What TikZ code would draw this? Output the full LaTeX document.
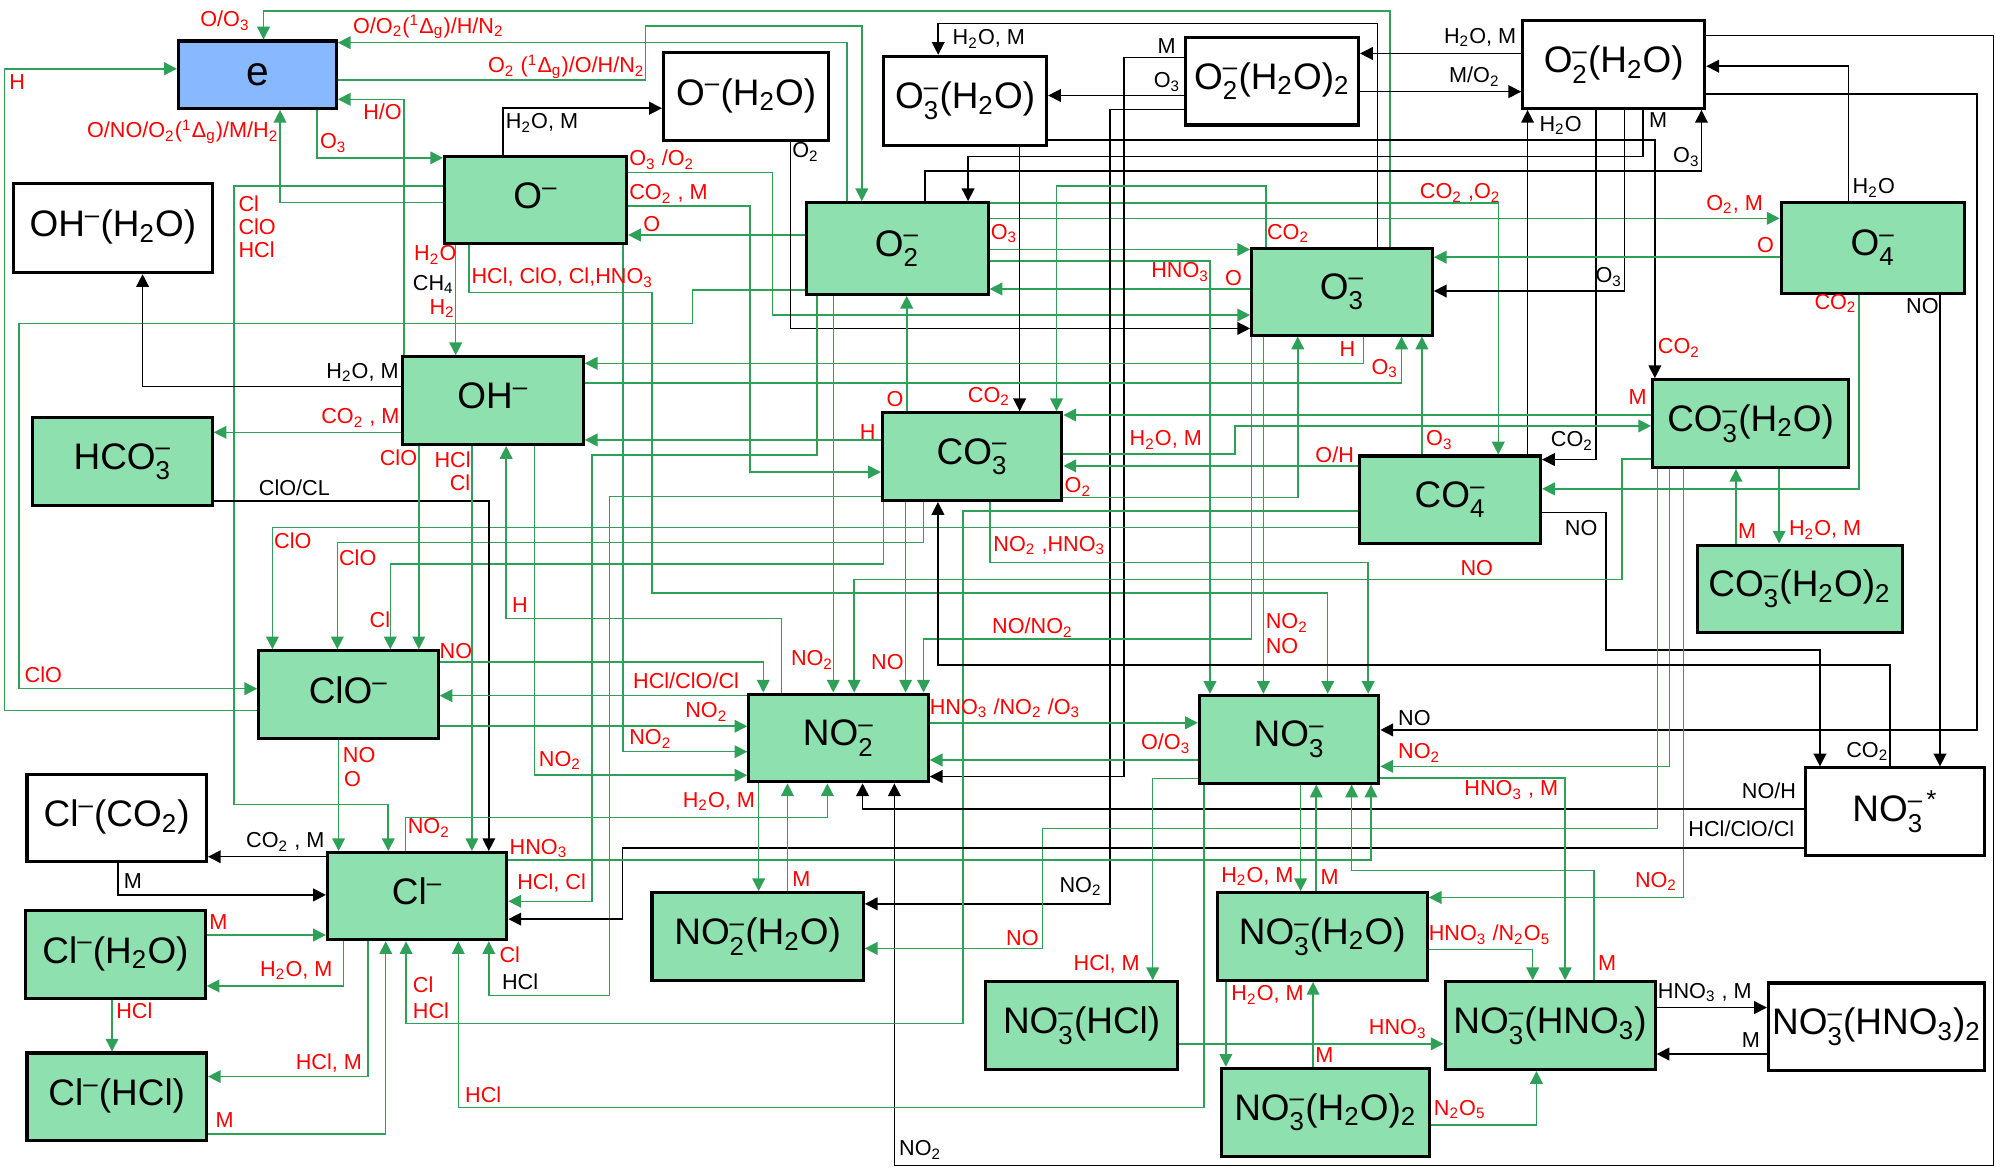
\documentclass[tikz,border=0pt]{standalone}
\usepackage{fontspec}
\setmainfont{Liberation Sans}
\usepackage{amsmath}
\usepackage{tikz}
\usetikzlibrary{arrows.meta}

\definecolor{ionfill}{RGB}{142,224,174}
\definecolor{efill}{RGB}{136,184,255}
\definecolor{lgreen}{RGB}{46,160,88}
\definecolor{lred}{RGB}{255,0,0}

\newcommand{\subs}[1]{\textsubscript{#1}}
\newcommand{\chg}[2]{\ensuremath{_{\text{#1}}^{\text{#2}}}}

\begin{document}
\begin{tikzpicture}[
    x=0.5pt, y=-0.5pt,
    font=\fontsize{8.5}{9}\selectfont,
    ion/.style={
        draw,
        line width=1.2pt,
        fill=ionfill,
        anchor=north west,
        inner sep=0pt,
        minimum width=70.5pt,
        minimum height=34.5pt,
        font=\fontsize{14.5}{15}\selectfont
    },
    neu/.style={ion, fill=white},
    ebox/.style={ion, fill=efill},
    gwire/.style={
        draw=lgreen,
        line width=0.6pt,
        -{Triangle[length=5pt,width=5pt]}
    },
    bwire/.style={
        draw=black,
        line width=0.6pt,
        -{Triangle[length=5pt,width=5pt]}
    },
    rtag/.style={text=lred, anchor=base west, inner sep=0pt},
    ktag/.style={text=black, anchor=base west, inner sep=0pt}
]
\useasboundingbox (0,0) rectangle (1568,918);

% =========================================================
% species
% =========================================================
\node[ebox, minimum width=62pt, minimum height=26.5pt,
      font=\fontsize{16}{16}\selectfont] (e) at (139,31) {e};
\node[neu, minimum width=78pt, minimum height=35pt] (OHw) at (9.5,143) {OH\chg{}{–}(H\subs{2}O)};
\node[ion, minimum width=71.5pt, minimum height=34pt] (Om) at (348,122) {O\chg{}{–}};
\node[neu, minimum width=65pt] (Omw) at (520,40) {O\chg{}{–}(H\subs{2}O)};
\node[neu, minimum width=64pt, minimum height=35pt] (O3mw) at (693,43) {O\chg{3}{–}(H\subs{2}O)};
\node[neu, minimum width=68pt] (O2mw2) at (930,28) {O\chg{2}{–}(H\subs{2}O)\subs{2}};
\node[neu, minimum width=71.5pt] (O2mw) at (1195,15) {O\chg{2}{–}(H\subs{2}O)};
\node[ion, minimum width=71.5pt, minimum height=36pt] (O2m) at (632,158) {O\chg{2}{–}};
\node[ion, minimum width=71pt, minimum height=34pt] (O3m) at (982,194) {O\chg{3}{–}};
\node[ion, minimum width=72pt, minimum height=35.5pt] (O4m) at (1398,158) {O\chg{4}{–}};
\node[ion, minimum width=71pt] (OHm) at (315,279) {OH\chg{}{–}};
\node[ion] (HCO3m) at (24.5,327) {HCO\chg{3}{–}};
\node[ion] (CO3m) at (692,323) {CO\chg{3}{–}};
\node[ion, minimum width=71pt] (CO4m) at (1067,357) {CO\chg{4}{–}};
\node[ion, minimum width=77pt] (CO3mw) at (1297,297) {CO\chg{3}{–}(H\subs{2}O)};
\node[ion, minimum width=80.5pt] (CO3mw2) at (1332,427) {CO\chg{3}{–}(H\subs{2}O)\subs{2}};
\node[ion] (ClOm) at (202,510) {ClO\chg{}{–}};
\node[ion] (NO2m) at (587,544) {NO\chg{2}{–}};
\node[ion] (NO3m) at (941,545) {NO\chg{3}{–}};
\node[neu] (NO3s) at (1417,602) {NO\chg{3}{–\,*}};
\node[neu, minimum height=34pt] (ClCO2) at (20,607.5) {Cl\chg{}{–}(CO\subs{2})};
\node[ion, minimum height=34.25pt] (Clm) at (256,668.5) {Cl\chg{}{–}};
\node[ion] (ClW) at (19,714) {Cl\chg{}{–}(H\subs{2}O)};
\node[ion] (ClHCl) at (20,826) {Cl\chg{}{–}(HCl)};
\node[ion, minimum width=83pt] (NO2mw) at (511,700) {NO\chg{2}{–}(H\subs{2}O)};
\node[ion, minimum width=82.5pt] (NO3mw) at (955,700) {NO\chg{3}{–}(H\subs{2}O)};
\node[ion, minimum width=75.5pt] (NO3HCl) at (773,770) {NO\chg{3}{–}(HCl)};
\node[ion, minimum width=82.5pt] (NO3HNO3) at (1134,770) {NO\chg{3}{–}(HNO\subs{3})};
\node[neu, minimum width=85pt] (NO3HNO32) at (1388,771) {NO\chg{3}{–}(HNO\subs{3})\subs{2}};
\node[ion, minimum width=82pt] (NO3mw2) at (958,838) {NO\chg{3}{–}(H\subs{2}O)\subs{2}};

% =========================================================
% electron and O- / O2- channels
% =========================================================
\draw[gwire] (O3m.north -| 1092,0) -- (1092,8.6) -- (207,8.6) -- (e.north -| 207,0);
\draw[gwire] (O2m.north -| 665.5,0) -- (665.5,33.5) -- (e.east |- 0,33.5);
\draw[gwire] (e.east |- 0,63) -- (507,63) -- (507,20.4) -- (677,20.4) -- (O2m.north -| 677,0);
\draw[gwire] (ClOm.west |- 0,558) -- (3.4,558) -- (3.4,54) -- (e.west |- 0,54);
\draw[gwire] (O2m.west |- 0,228) -- (544,228) -- (544,254) -- (15,254) -- (15,541) -- (ClOm.west |- 0,541);
\draw[gwire] (Om.west |- 0,159) -- (220,159) -- (e.south -| 220,0);
\draw[gwire] (e.south -| 249,0) -- (249,124) -- (Om.west |- 0,124);
\draw[gwire] (OHm.north -| 317.5,0) -- (317.5,78) -- (e.east |- 0,78);
\draw[gwire] (Om.west |- 0,146) -- (184,146) -- (184,632) -- (305,632) -- (Clm.north -| 305,0);
\draw[bwire] (Om.north -| 395,0) -- (395,85) -- (Omw.west |- 0,85);
\draw[gwire] (Om.south -| 358,0) -- (OHm.north -| 358,0);
\draw[gwire] (Om.south -| 368.6,0) -- (368.6,229.6) -- (512,229.6) -- (512,466) -- (1043,466) -- (NO3m.north -| 1043,0);
\draw[gwire] (Om.east |- 0,162) -- (589,162) -- (589,370.8) -- (CO3m.west |- 0,370.8);
\draw[gwire] (Om.east |- 0,135.6) -- (607,135.6) -- (607,247.5) -- (O3m.west |- 0,247.5);
\draw[gwire] (O2m.west |- 0,184.6) -- (Om.east |- 0,184.6);
\draw[bwire] (Omw.south -| 621,0) -- (621,258) -- (O3m.west |- 0,258);
\draw[gwire] (Om.south -| 489.6,0) -- (489.6,590.5) -- (NO2m.west |- 0,590.5);

\draw[gwire] (O2m.east |- 0,196) -- (O3m.west |- 0,196);
\draw[gwire] (O2m.east |- 0,205) -- (950.5,205) -- (NO3m.north -| 950.5,0);
\draw[gwire] (O3m.west |- 0,227) -- (O2m.east |- 0,227);
\draw[gwire] (O2m.east |- 0,171.5) -- (O4m.west |- 0,171.5);
\draw[gwire] (O2m.east |- 0,159.5) -- (1177,159.5) -- (CO4m.north -| 1177,0);
\draw[gwire] (O2m.south -| 642,0) -- (642,357.4) -- (465,357.4) -- (465,708) -- (Clm.east |- 0,708);
\draw[gwire] (O2m.south -| 654.6,0) -- (NO2m.north -| 654.6,0);

% =========================================================
% hydrated O2- / O3- clusters
% =========================================================
\draw[bwire] (O3m.north -| 1082,0) -- (1082,18.3) -- (737,18.3) -- (O3mw.north -| 737,0);
\draw[bwire] (O3mw.south -| 801,0) -- (CO3m.north -| 801,0);
\draw[bwire] (O2mw2.west |- 0,75) -- (O3mw.east |- 0,75);
\draw[bwire] (O2mw2.west |- 0,45) -- (883,45) -- (883,610) -- (NO2m.east |- 0,610);
\draw[bwire] (O2mw2.west |- 0,86) -- (872,86) -- (872,710) -- (NO2mw.east |- 0,710);
\draw[bwire] (O3mw.east |- 0,110) -- (1300,110) -- (CO3mw.north -| 1300,0);
\draw[bwire] (O2mw.south -| 1290.5,0) -- (1290.5,123) -- (760.5,123) -- (O2m.north -| 760.5,0);
\draw[bwire] (O2m.north -| 726.5,0) -- (726.5,134.5) -- (1336.6,134.5) -- (O2mw.south -| 1336.6,0);
\draw[bwire] (O2mw.west |- 0,42) -- (O2mw2.east |- 0,42);
\draw[bwire] (O2mw2.east |- 0,72) -- (O2mw.west |- 0,72);
\draw[bwire] (O2mw.east |- 0,74) -- (1553,74) -- (1553,573.4) -- (NO3m.east |- 0,573.4);
\draw[bwire] (O2mw.east |- 0,28) -- (1566,28) -- (1566,915.5) -- (702.6,915.5) -- (NO2m.south -| 702.6,0);
\draw[bwire] (O4m.north -| 1452,0) -- (1452,52) -- (O2mw.east |- 0,52);
\draw[bwire] (O2mw.south -| 1276,0) -- (1276,228.6) -- (O3m.east |- 0,228.6);
\draw[bwire] (CO4m.north -| 1200,0) -- (O2mw.south -| 1200,0);
\draw[bwire] (O2mw.south -| 1253.6,0) -- (1253.6,361) -- (CO4m.east |- 0,361);

% =========================================================
% O3- / O4- / CO3- / CO4-
% =========================================================
\draw[gwire] (O3m.north -| 994.4,0) -- (994.4,146) -- (830,146) -- (CO3m.north -| 830,0);
\draw[gwire] (O3m.south -| 1071,0) -- (1071,285.4) -- (OHm.east |- 0,285.4);
\draw[gwire] (OHm.east |- 0,301) -- (1101,301) -- (O3m.south -| 1101,0);
\draw[gwire] (O3m.south -| 983,0) -- (983,502) -- (725.5,502) -- (NO2m.north -| 725.5,0);
\draw[gwire] (O3m.south -| 992.5,0) -- (NO3m.north -| 992.5,0);
\draw[gwire] (O4m.west |- 0,202) -- (O3m.east |- 0,202);
\draw[gwire] (O4m.south -| 1460.5,0) -- (1460.5,384) -- (CO4m.east |- 0,384);
\draw[bwire] (O4m.south -| 1524,0) -- (NO3s.north -| 1524,0);
\draw[gwire] (CO4m.north -| 1117,0) -- (O3m.south -| 1117,0);
\draw[gwire] (CO4m.west |- 0,366) -- (CO3m.east |- 0,366);
\draw[gwire] (CO4m.west |- 0,414.5) -- (214,414.5) -- (ClOm.north -| 214,0);
\draw[gwire] (CO4m.west |- 0,401.4) -- (756.5,401.4) -- (756.5,804) -- (319,804) -- (Clm.south -| 319,0);
\draw[bwire] (CO4m.east |- 0,402.7) -- (1261.5,402.7) -- (1261.5,510.6) -- (1429.7,510.6) -- (NO3s.north -| 1429.7,0);
\draw[gwire] (CO3m.east |- 0,390.7) -- (1019.5,390.7) -- (O3m.south -| 1019.5,0);
\draw[gwire] (CO3m.north -| 712.3,0) -- (O2m.south -| 712.3,0);
\draw[gwire] (CO3m.west |- 0,345.6) -- (OHm.east |- 0,345.6);
\draw[gwire] (CO3m.west |- 0,390) -- (478.7,390) -- (478.7,782) -- (384,782) -- (Clm.south -| 384,0);
\draw[gwire] (CO3m.south -| 725.3,0) -- (725.3,426) -- (265,426) -- (ClOm.north -| 265,0);
\draw[gwire] (CO3m.south -| 694.2,0) -- (694.2,443) -- (306.6,443) -- (ClOm.north -| 306.6,0);
\draw[gwire] (CO3m.south -| 711.4,0) -- (NO2m.north -| 711.4,0);
\draw[gwire] (CO3m.south -| 777.5,0) -- (777.5,442) -- (1074.8,442) -- (NO3m.north -| 1074.8,0);
\draw[gwire] (CO3mw.west |- 0,326) -- (CO3m.east |- 0,326);
\draw[gwire] (CO3m.east |- 0,356.6) -- (970,356.6) -- (970,334.6) -- (CO3mw.west |- 0,334.6);
\draw[gwire] (CO3mw.west |- 0,360.6) -- (1274,360.6) -- (1274,455.3) -- (671,455.3) -- (NO2m.north -| 671,0);
\draw[gwire] (CO3mw2.north -| 1363.7,0) -- (CO3mw.south -| 1363.7,0);
\draw[gwire] (CO3mw.south -| 1397.6,0) -- (CO3mw2.north -| 1397.6,0);
\draw[gwire] (CO3mw.south -| 1311.5,0) -- (1311.5,602) -- (NO3m.east |- 0,602);
\draw[gwire] (CO3mw.south -| 1322.6,0) -- (1322.6,705) -- (NO3mw.east |- 0,705);
\draw[gwire] (CO3mw.south -| 1302,0) -- (1302,651) -- (819,651) -- (819,745) -- (NO2mw.east |- 0,745);
\draw[bwire] (NO3s.north -| 1484.6,0) -- (1484.6,522.4) -- (736.8,522.4) -- (CO3m.south -| 736.8,0);

% =========================================================
% OH- / HCO3- / ClO-
% =========================================================
\draw[bwire] (OHm.west |- 0,303.7) -- (112,303.7) -- (OHw.south -| 112,0);
\draw[gwire] (OHm.west |- 0,339.6) -- (HCO3m.east |- 0,339.6);
\draw[bwire] (HCO3m.east |- 0,393.6) -- (384,393.6) -- (Clm.north -| 384,0);
\draw[gwire] (OHm.south -| 329,0) -- (ClOm.north -| 329,0);
\draw[gwire] (OHm.south -| 370.7,0) -- (Clm.north -| 370.7,0);
\draw[gwire] (OHm.south -| 420,0) -- (420,609) -- (NO2m.west |- 0,609);
\draw[gwire] (NO2m.north -| 614,0) -- (614,486) -- (397.6,486) -- (OHm.south -| 397.6,0);
\draw[gwire] (ClOm.east |- 0,520) -- (599.6,520) -- (NO2m.north -| 599.6,0);
\draw[gwire] (NO2m.west |- 0,546.5) -- (ClOm.east |- 0,546.5);
\draw[gwire] (ClOm.east |- 0,570.5) -- (NO2m.west |- 0,570.5);
\draw[gwire] (ClOm.south -| 266,0) -- (Clm.north -| 266,0);

% =========================================================
% NO2- / NO3- and their clusters
% =========================================================
\draw[gwire] (NO2m.east |- 0,567.8) -- (NO3m.west |- 0,567.8);
\draw[gwire] (NO3m.west |- 0,597) -- (NO2m.east |- 0,597);
\draw[bwire] (NO3s.west |- 0,635.5) -- (677.6,635.5) -- (NO2m.south -| 677.6,0);
\draw[bwire] (NO3s.west |- 0,666) -- (489,666) -- (489,722) -- (Clm.east |- 0,722);
\draw[gwire] (NO3m.east |- 0,611) -- (1229.5,611) -- (NO3HNO3.north -| 1229.5,0);
\draw[gwire] (NO3HNO3.north -| 1252,0) -- (1252,684) -- (1061.8,684) -- (NO3m.south -| 1061.8,0);
\draw[gwire] (Clm.east |- 0,675.5) -- (1077,675.5) -- (NO3m.south -| 1077,0);
\draw[gwire] (NO3m.south -| 1021.7,0) -- (NO3mw.north -| 1021.7,0);
\draw[gwire] (NO3mw.north -| 1034,0) -- (NO3m.south -| 1034,0);
\draw[gwire] (NO3m.west |- 0,611.4) -- (905.5,611.4) -- (NO3HCl.north -| 905.5,0);
\draw[gwire] (NO3HCl.east |- 0,820) -- (NO3HNO3.west |- 0,820);
\draw[gwire] (NO3mw.south -| 963,0) -- (NO3mw2.north -| 963,0);
\draw[gwire] (NO3mw2.north -| 1031.5,0) -- (NO3mw.south -| 1031.5,0);
\draw[gwire] (NO3mw.east |- 0,746) -- (1204,746) -- (NO3HNO3.north -| 1204,0);
\draw[gwire] (NO3mw2.east |- 0,883.7) -- (1207,883.7) -- (NO3HNO3.south -| 1207,0);
\draw[bwire] (NO3HNO3.east |- 0,791.5) -- (NO3HNO32.west |- 0,791.5);
\draw[bwire] (NO3HNO32.west |- 0,828) -- (NO3HNO3.east |- 0,828);
\draw[gwire] (NO2m.south -| 596,0) -- (NO2mw.north -| 596,0);
\draw[gwire] (NO2mw.north -| 618.6,0) -- (NO2m.south -| 618.6,0);
\draw[gwire] (NO3m.south -| 946,0) -- (946,870) -- (360,870) -- (Clm.south -| 360,0);

% =========================================================
% Cl- and its clusters
% =========================================================
\draw[gwire] (Clm.north -| 318.6,0) -- (318.6,642) -- (650,642) -- (NO2m.south -| 650,0);
\draw[gwire] (Clm.south -| 289,0) -- (289,845.7) -- (ClHCl.east |- 0,845.7);
\draw[gwire] (ClHCl.east |- 0,890.8) -- (303,890.8) -- (Clm.south -| 303,0);
\draw[gwire] (ClW.east |- 0,734.5) -- (Clm.west |- 0,734.5);
\draw[gwire] (Clm.south -| 270,0) -- (270,774.5) -- (ClW.east |- 0,774.5);
\draw[gwire] (ClW.south -| 88,0) -- (ClHCl.north -| 88,0);
\draw[bwire] (Clm.west |- 0,673) -- (ClCO2.east |- 0,673);
\draw[bwire] (ClCO2.south -| 92.7,0) -- (92.7,703) -- (Clm.west |- 0,703);

% =========================================================
% reactant labels
% =========================================================
\node[rtag] (t1) at (157,21) {O/O\subs{3}};
\node[rtag] (t2) at (277,26) {O/O\subs{2}(\textsuperscript{1}Δ\subs{g})/H/N\subs{2}};
\node[rtag] (t3) at (383,57) {O\subs{2} (\textsuperscript{1}Δ\subs{g})/O/H/N\subs{2}};
\node[rtag] (t4) at (7,70) {H};
\node[rtag] (t5) at (19,536) {ClO};
\node[rtag] (t6) at (68,108) {O/NO/O\subs{2}(\textsuperscript{1}Δ\subs{g})/M/H\subs{2}};
\node[rtag] (t7) at (251,117) {O\subs{3}};
\node[rtag] (t8) at (285,94) {H/O};
\node[rtag] (t9) at (187,166) {Cl};
\node[rtag] (t10) at (187,184) {ClO};
\node[rtag] (t11) at (187,202) {HCl};
\node[ktag] (t12) at (397,101) {H\subs{2}O, M};
\node[rtag] (t13) at (325,205) {H\subs{2}O};
\node[ktag] (t14) at (324,228) {CH\subs{4}};
\node[rtag] (t15) at (337,247) {H\subs{2}};
\node[rtag] (t16) at (370,223) {HCl, ClO, Cl,HNO\subs{3}};
\node[ktag] (t17) at (256,297) {H\subs{2}O, M};
\node[rtag] (t18) at (252,333) {CO\subs{2} , M};
\node[ktag] (t19) at (203,389) {ClO/CL};
\node[rtag] (t20) at (298,366) {ClO};
\node[rtag] (t21) at (341,367) {HCl};
\node[rtag] (t22) at (353,385) {Cl};
\node[rtag] (t23) at (423,602) {NO\subs{2}};
\node[rtag] (t24) at (402,481) {H};
\node[rtag] (t25) at (215,431) {ClO};
\node[rtag] (t26) at (266,444) {ClO};
\node[rtag] (t27) at (290,493) {Cl};
\node[rtag] (t28) at (345,517) {NO};
\node[rtag] (t29) at (497,541) {HCl/ClO/Cl};
\node[rtag] (t30) at (538,564) {NO\subs{2}};
\node[rtag] (t31) at (494,585) {NO\subs{2}};
\node[rtag] (t32) at (269,599) {NO};
\node[rtag] (t33) at (270,618) {O};
\node[rtag] (t34) at (406,699) {HCl, Cl};
\node[rtag] (t35) at (675,345) {H};
\node[rtag] (t36) at (1052,280) {H};
\node[rtag] (t37) at (1077,294) {O\subs{3}};
\node[rtag] (t38) at (494,157) {CO\subs{2} , M};
\node[rtag] (t39) at (494,130) {O\subs{3} /O\subs{2}};
\node[rtag] (t40) at (505,182) {O};
\node[ktag] (t41) at (622,124) {O\subs{2}};
\node[rtag] (t42) at (778,188) {O\subs{3}};
\node[rtag] (t43) at (904,218) {HNO\subs{3}};
\node[rtag] (t44) at (962,224) {O};
\node[rtag] (t45) at (1340,165) {O\subs{2}, M};
\node[rtag] (t46) at (1115,156) {CO\subs{2} ,O\subs{2}};
\node[rtag] (t47) at (995,188) {CO\subs{2}};
\node[rtag] (t48) at (760,316) {CO\subs{2}};
\node[ktag] (t49) at (748,35) {H\subs{2}O, M};
\node[ktag] (t50) at (906,69) {O\subs{3}};
\node[ktag] (t51) at (909,42) {M};
\node[ktag] (t52) at (832,701) {NO\subs{2}};
\node[rtag] (t53) at (1302,278) {CO\subs{2}};
\node[ktag] (t54) at (1295,100) {M};
\node[ktag] (t55) at (1314,128) {O\subs{3}};
\node[ktag] (t56) at (1134,34) {H\subs{2}O, M};
\node[ktag] (t57) at (1138,65) {M/O\subs{2}};
\node[ktag] (t58) at (1098,570) {NO};
\node[ktag] (t59) at (706,908) {NO\subs{2}};
\node[ktag] (t60) at (1455,152) {H\subs{2}O};
\node[rtag] (t61) at (1380,198) {O};
\node[ktag] (t62) at (1253,222) {O\subs{3}};
\node[rtag] (t63) at (1425,243) {CO\subs{2}};
\node[ktag] (t64) at (1497,246) {NO};
\node[ktag] (t65) at (1209,103) {H\subs{2}O};
\node[ktag] (t66) at (1218,351) {CO\subs{2}};
\node[rtag] (t67) at (1120,350) {O\subs{3}};
\node[rtag] (t68) at (1033,363) {O/H};
\node[rtag] (t69) at (836,387) {O\subs{2}};
\node[rtag] (t70) at (696,319) {O};
\node[rtag] (t71) at (1279,318) {M};
\node[rtag] (t72) at (887,350) {H\subs{2}O, M};
\node[rtag] (t73) at (780,433) {NO\subs{2} ,HNO\subs{3}};
\node[rtag] (t74) at (779,498) {NO/NO\subs{2}};
\node[rtag] (t75) at (994,494) {NO\subs{2}};
\node[rtag] (t76) at (994,513) {NO};
\node[rtag] (t77) at (684,526) {NO};
\node[rtag] (t78) at (1147,452) {NO};
\node[rtag] (t79) at (621,523) {NO\subs{2}};
\node[rtag] (t80) at (730,561) {HNO\subs{3} /NO\subs{2} /O\subs{3}};
\node[rtag] (t81) at (896,589) {O/O\subs{3}};
\node[ktag] (t82) at (1368,627) {NO/H};
\node[ktag] (t83) at (1326,657) {HCl/ClO/Cl};
\node[ktag] (t84) at (1450,595) {CO\subs{2}};
\node[ktag] (t85) at (1229,421) {NO};
\node[rtag] (t86) at (1365,423) {M};
\node[rtag] (t87) at (1405,421) {H\subs{2}O, M};
\node[rtag] (t88) at (1098,596) {NO\subs{2}};
\node[rtag] (t89) at (1284,697) {NO\subs{2}};
\node[rtag] (t90) at (790,743) {NO};
\node[rtag] (t91) at (1150,625) {HNO\subs{3} , M};
\node[rtag] (t92) at (1255,762) {M};
\node[rtag] (t93) at (400,671) {HNO\subs{3}};
\node[rtag] (t94) at (959,693) {H\subs{2}O, M};
\node[rtag] (t95) at (1037,695) {M};
\node[rtag] (t96) at (843,762) {HCl, M};
\node[rtag] (t97) at (1075,813) {HNO\subs{3}};
\node[rtag] (t98) at (967,786) {H\subs{2}O, M};
\node[rtag] (t99) at (1033,835) {M};
\node[rtag] (t100) at (1122,739) {HNO\subs{3} /N\subs{2}O\subs{5}};
\node[rtag] (t101) at (1126,876) {N\subs{2}O\subs{5}};
\node[ktag] (t102) at (1302,784) {HNO\subs{3} , M};
\node[ktag] (t103) at (1368,823) {M};
\node[rtag] (t104) at (536,634) {H\subs{2}O, M};
\node[rtag] (t105) at (622,696) {M};
\node[rtag] (t106) at (320,655) {NO\subs{2}};
\node[rtag] (t107) at (324,780) {Cl};
\node[rtag] (t108) at (324,800) {HCl};
\node[rtag] (t109) at (365,866) {HCl};
\node[rtag] (t110) at (392,756) {Cl};
\node[ktag] (t111) at (394,777) {HCl};
\node[rtag] (t112) at (232,840) {HCl, M};
\node[rtag] (t113) at (169,886) {M};
\node[rtag] (t114) at (164,730) {M};
\node[rtag] (t115) at (204,767) {H\subs{2}O, M};
\node[rtag] (t116) at (91,800) {HCl};
\node[ktag] (t117) at (193,666) {CO\subs{2} , M};
\node[ktag] (t118) at (97,698) {M};

\end{tikzpicture}
\end{document}
